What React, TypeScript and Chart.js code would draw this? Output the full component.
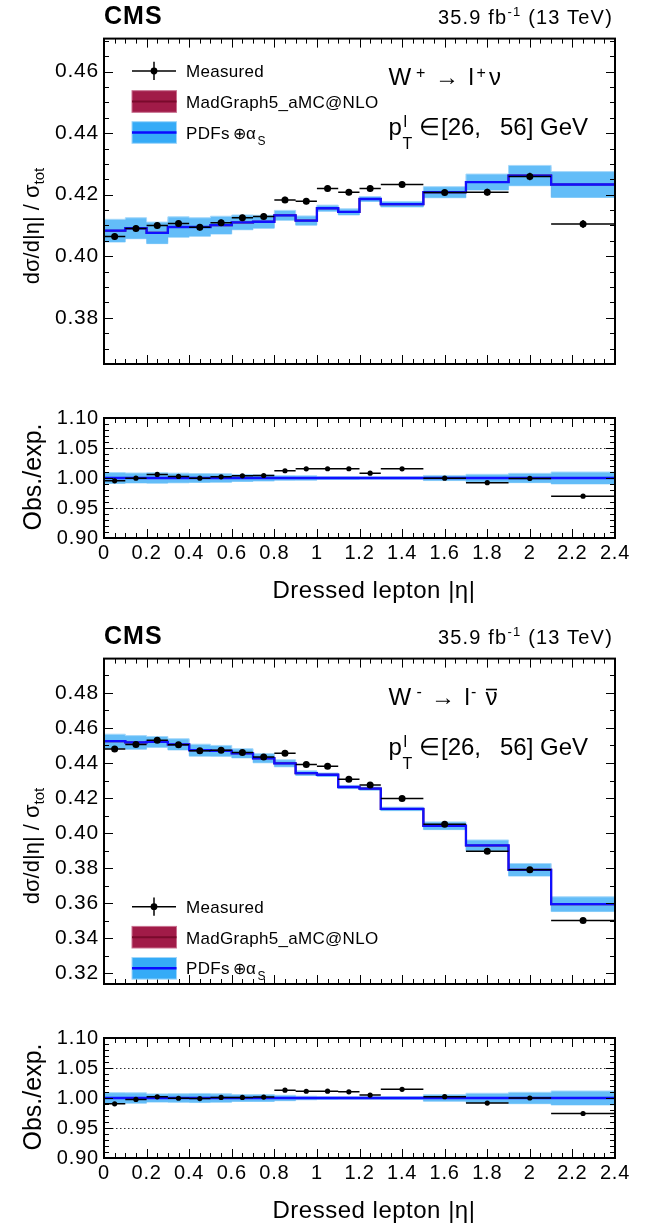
import React, { useEffect, useRef } from 'react';
import { Chart, registerables } from 'chart.js';

Chart.register(...registerables);

const FONT = "'Liberation Sans', Arial, Helvetica, sans-serif";

// |eta| bin edges
const binEdges = [0, 0.1, 0.2, 0.3, 0.4, 0.5, 0.6, 0.7, 0.8, 0.9, 1.0, 1.1, 1.2, 1.3, 1.5, 1.7, 1.9, 2.1, 2.4];

// W+ -> l+ nu
const measPlus = [0.4064, 0.4090, 0.4100, 0.4106, 0.4094, 0.4109, 0.4125, 0.4129, 0.4183, 0.4179, 0.4220, 0.4208, 0.4220, 0.4233, 0.4207, 0.4208, 0.4259, 0.4105];
const errPlus = [0.0011, 0.0010, 0.0010, 0.0010, 0.0010, 0.0010, 0.0010, 0.0010, 0.0010, 0.0010, 0.0010, 0.0010, 0.0010, 0.0009, 0.0010, 0.0011, 0.0012, 0.0013];
const predPlus = [0.4083, 0.4091, 0.4076, 0.4095, 0.4095, 0.4101, 0.4110, 0.4112, 0.4133, 0.4116, 0.4156, 0.4144, 0.4186, 0.4169, 0.4208, 0.4241, 0.4262, 0.4233];
const pdfHalfPlus = [0.0037, 0.0034, 0.0035, 0.0033, 0.0030, 0.0029, 0.0024, 0.0021, 0.0016, 0.0015, 0.0010, 0.0010, 0.0008, 0.0009, 0.0018, 0.0026, 0.0033, 0.0042];
const mgHalfPlus = [0.0030, 0.0028, 0.0029, 0.0027, 0.0025, 0.0024, 0.0020, 0.0018, 0.0013, 0.0012, 0.0008, 0.0008, 0.0007, 0.0007, 0.0015, 0.0022, 0.0028, 0.0040];

// W- -> l- nubar
const measMinus = [0.4480, 0.4506, 0.4529, 0.4504, 0.4469, 0.4473, 0.4459, 0.4434, 0.4455, 0.4391, 0.4382, 0.4307, 0.4275, 0.4198, 0.4051, 0.3897, 0.3791, 0.3502];
const errMinus = [0.0011, 0.0010, 0.0010, 0.0010, 0.0010, 0.0010, 0.0010, 0.0010, 0.0010, 0.0010, 0.0010, 0.0010, 0.0010, 0.0009, 0.0010, 0.0010, 0.0011, 0.0012];
const predMinus = [0.4524, 0.4517, 0.4520, 0.4506, 0.4473, 0.4469, 0.4455, 0.4427, 0.4398, 0.4342, 0.4333, 0.4263, 0.4254, 0.4138, 0.4042, 0.3930, 0.3791, 0.3595];
const pdfHalfMinus = [0.0040, 0.0039, 0.0031, 0.0032, 0.0034, 0.0031, 0.0026, 0.0026, 0.0020, 0.0013, 0.0010, 0.0009, 0.0009, 0.0010, 0.0022, 0.0031, 0.0036, 0.0042];
const mgHalfMinus = [0.0034, 0.0033, 0.0026, 0.0027, 0.0029, 0.0026, 0.0022, 0.0022, 0.0017, 0.0011, 0.0008, 0.0008, 0.0008, 0.0008, 0.0019, 0.0026, 0.0031, 0.0036];

// axis ranges / ticks
const xRange = [0, 2.4];
const yRangePlus = [0.365, 0.4707];
const yRangeMinus = [0.314, 0.4995];
const ratioRange = [0.9, 1.1];
const ratioRefLines = [0.95, 1.05];

const stepData = (vals: number[]) => [
  ...vals.map((v, i) => ({ x: binEdges[i], y: v })),
  { x: binEdges[binEdges.length - 1], y: vals[vals.length - 1] },
];
const centerOf = (i: number) => (binEdges[i] + binEdges[i + 1]) / 2;
const pointData = (vals: number[]) => vals.map((v, i) => ({ x: centerOf(i), y: v }));
const barData = (vals: number[], errs: number[]) => [
  ...vals.flatMap((v, i) => [
    { x: binEdges[i], y: v },
    { x: binEdges[i + 1], y: v },
    { x: binEdges[i + 1], y: null },
  ]),
  ...vals.flatMap((v, i) => [
    { x: centerOf(i), y: v - errs[i] },
    { x: centerOf(i), y: v + errs[i] },
    { x: centerOf(i), y: null },
  ]),
];

const framePlugin = {
  id: 'frame',
  beforeDraw(chart: any) {
    (chart.ctx as any).letterSpacing = '0.8px';
  },
  beforeDatasetsDraw(chart: any, _a: any, opts: any) {
    const { ctx, chartArea: ca, scales } = chart;
    const y = scales.y;
    ctx.save();
    ctx.strokeStyle = '#333';
    ctx.lineWidth = 1;
    ctx.setLineDash([1.5, 2.5]);
    for (const v of opts.dotted || []) {
      const py = Math.round(y.getPixelForValue(v)) + 0.5;
      ctx.beginPath();
      ctx.moveTo(ca.left, py);
      ctx.lineTo(ca.right, py);
      ctx.stroke();
    }
    ctx.restore();
  },
  afterDatasetsDraw(chart: any, _a: any, opts: any) {
    const { ctx, chartArea: ca, scales } = chart;
    const x = scales.x;
    const y = scales.y;
    ctx.save();
    ctx.strokeStyle = '#000';
    ctx.lineWidth = 1;
    ctx.beginPath();
    const xmin = x.min, xmax = x.max;
    for (let k = Math.ceil(xmin / opts.xMinor - 1e-6); k * opts.xMinor <= xmax + 1e-9; k++) {
      const px = Math.round(x.getPixelForValue(k * opts.xMinor)) + 0.5;
      const len = k % opts.xEvery === 0 ? 9 : 5;
      ctx.moveTo(px, ca.bottom);
      ctx.lineTo(px, ca.bottom - len);
      ctx.moveTo(px, ca.top);
      ctx.lineTo(px, ca.top + len);
    }
    const ymin = y.min, ymax = y.max;
    for (let k = Math.ceil(ymin / opts.yMinor - 1e-6); k * opts.yMinor <= ymax + 1e-9; k++) {
      const py = Math.round(y.getPixelForValue(k * opts.yMinor)) + 0.5;
      const len = k % opts.yEvery === 0 ? 9 : 5;
      ctx.moveTo(ca.left, py);
      ctx.lineTo(ca.left + len, py);
      ctx.moveTo(ca.right, py);
      ctx.lineTo(ca.right - len, py);
    }
    ctx.stroke();
    ctx.lineWidth = 2;
    ctx.strokeRect(ca.left, ca.top, ca.right - ca.left, ca.bottom - ca.top);
    ctx.restore();
  },
};

type Spec = {
  top: number;
  height: number;
  padTop: number;
  padBottom: number;
  ratio: boolean;
  meas: number[];
  err: number[];
  pred: number[];
  pdfHalf: number[];
  mgHalf: number[];
  yRange: number[];
  yStep: number;
  yMinor: number;
  yEvery: number;
  markerR: number;
};

function buildConfig(s: Spec): any {
  const div = (a: number[]) => (s.ratio ? a.map((v, i) => v / s.pred[i]) : a);
  const m = div(s.meas);
  const e = div(s.err);
  const c = div(s.pred);
  const ph = div(s.pdfHalf);
  const mh = div(s.mgHalf);
  const bandCol = '#63bdf8';
  const bandEdge = '#a6d9fb';
  const datasets = [
    { label: 'Measured', data: pointData(m), showLine: false, pointRadius: s.markerR, pointBackgroundColor: '#000', pointBorderWidth: 0, borderColor: '#000' },
    { label: 'Measured bars', data: barData(m, e), borderColor: '#000', borderWidth: 1.5, pointRadius: 0, spanGaps: false },
    { label: 'PDFs', data: stepData(c), stepped: 'before', borderColor: '#1010ff', borderWidth: 2.3, pointRadius: 0 },
    { label: 'MadGraph5_aMC@NLO', data: stepData(c), stepped: 'before', borderColor: '#8a0c36', borderWidth: 2, pointRadius: 0 },
    { label: 'PDF up', data: stepData(c.map((v, i) => v + ph[i])), stepped: 'before', borderColor: bandEdge, borderWidth: 1, pointRadius: 0, fill: '+1', backgroundColor: bandCol },
    { label: 'PDF down', data: stepData(c.map((v, i) => v - ph[i])), stepped: 'before', borderColor: bandEdge, borderWidth: 1, pointRadius: 0, fill: false },
    { label: 'MG up', data: stepData(c.map((v, i) => v + mh[i])), stepped: 'before', borderColor: 'rgba(0,0,0,0)', borderWidth: 0, pointRadius: 0, fill: '+1', backgroundColor: '#a01946' },
    { label: 'MG down', data: stepData(c.map((v, i) => v - mh[i])), stepped: 'before', borderColor: 'rgba(0,0,0,0)', borderWidth: 0, pointRadius: 0, fill: false },
  ];
  return {
    type: 'line',
    data: { datasets },
    plugins: [framePlugin],
    options: {
      animation: false,
      responsive: false,
      devicePixelRatio: 1,
      events: [],
      layout: { padding: { left: 0, right: 40, top: s.padTop, bottom: s.padBottom } },
      plugins: {
        legend: { display: false },
        tooltip: { enabled: false },
        frame: { xMinor: 0.05, xEvery: 4, yMinor: s.yMinor, yEvery: s.yEvery, dotted: s.ratio ? ratioRefLines : [] },
      },
      scales: {
        x: {
          type: 'linear',
          min: xRange[0],
          max: xRange[1],
          display: s.ratio,
          grid: { display: false, drawTicks: false },
          border: { display: false },
          ticks: {
            stepSize: 0.2,
            autoSkip: false,
            maxRotation: 0,
            padding: 3,
            color: '#000',
            font: { family: FONT, size: 20 },
            callback: (v: number) => String(Math.round(v * 10) / 10),
          },
          afterFit: (sc: any) => {
            sc.height = 30;
          },
        },
        y: {
          type: 'linear',
          min: s.yRange[0],
          max: s.yRange[1],
          grid: { display: false, drawTicks: false },
          border: { display: false },
          ticks: {
            stepSize: s.yStep,
            includeBounds: false,
            autoSkip: false,
            padding: 5,
            color: '#000',
            font: { family: FONT, size: s.ratio ? 20 : 21 },
            callback: (v: number) => v.toFixed(2),
          },
          afterFit: (sc: any) => {
            sc.width = 104;
          },
        },
      },
    },
  };
}

function ChartPanel({ spec }: { spec: Spec }) {
  const ref = useRef<HTMLCanvasElement>(null);
  useEffect(() => {
    const chart = new Chart(ref.current as HTMLCanvasElement, buildConfig(spec));
    return () => chart.destroy();
  }, []);
  return (
    <canvas
      ref={ref}
      width={655}
      height={spec.height}
      style={{ position: 'absolute', left: 0, top: spec.top, width: 655, height: spec.height }}
    />
  );
}

const G2 = 620; // vertical offset of the second figure

const specs: Spec[] = [
  { top: 21, height: 387, padTop: 16, padBottom: 14, ratio: false, meas: measPlus, err: errPlus, pred: predPlus, pdfHalf: pdfHalfPlus, mgHalf: mgHalfPlus, yRange: yRangePlus, yStep: 0.02, yMinor: 0.005, yEvery: 4, markerR: 3.5 },
  { top: 401, height: 171, padTop: 16, padBottom: 4, ratio: true, meas: measPlus, err: errPlus, pred: predPlus, pdfHalf: pdfHalfPlus, mgHalf: mgHalfPlus, yRange: ratioRange, yStep: 0.05, yMinor: 0.01, yEvery: 5, markerR: 2.6 },
  { top: 21 + G2, height: 387, padTop: 16, padBottom: 14, ratio: false, meas: measMinus, err: errMinus, pred: predMinus, pdfHalf: pdfHalfMinus, mgHalf: mgHalfMinus, yRange: yRangeMinus, yStep: 0.02, yMinor: 0.01, yEvery: 2, markerR: 3.5 },
  { top: 401 + G2, height: 171, padTop: 16, padBottom: 4, ratio: true, meas: measMinus, err: errMinus, pred: predMinus, pdfHalf: pdfHalfMinus, mgHalf: mgHalfMinus, yRange: ratioRange, yStep: 0.05, yMinor: 0.01, yEvery: 5, markerR: 2.6 },
];

function Legend({ b1, b2, b3 }: { b1: number; b2: number; b3: number }) {
  return (
    <g>
      <line x1={132} x2={176} y1={b1 - 6.3} y2={b1 - 6.3} stroke="#000" strokeWidth={1.5} />
      <line x1={154} x2={154} y1={b1 - 15.6} y2={b1 + 2.7} stroke="#000" strokeWidth={1.5} />
      <circle cx={154} cy={b1 - 6.3} r={3.4} fill="#000" />
      <text x={186} y={b1} fontSize={17} letterSpacing={0.3}>Measured</text>

      <rect x={132} y={b2 - 17.3} width={44.5} height={21.6} fill="#a11b48" stroke="#c9708f" strokeWidth={1} />
      <line x1={132} x2={176.5} y1={b2 - 6.5} y2={b2 - 6.5} stroke="#7a0a2c" strokeWidth={2} />
      <text x={186} y={b2} fontSize={17} letterSpacing={0.3}>MadGraph5_aMC@NLO</text>

      <rect x={132} y={b3 - 16.8} width={44.5} height={21.6} fill="#35abf7" stroke="#9fd6fa" strokeWidth={1} />
      <line x1={132} x2={176.5} y1={b3 - 6} y2={b3 - 6} stroke="#0a0aff" strokeWidth={2.5} />
      <text x={186} y={b3} fontSize={17} letterSpacing={0.3}>
        PDFs
        <tspan x={233} fontSize={16}>⊕</tspan>
        <tspan x={246}>α</tspan>
        <tspan x={257.5} dy={6} fontSize={12}>S</tspan>
      </text>
    </g>
  );
}

function Header({ g }: { g: number }) {
  return (
    <g>
      <text x={104} y={24 + g} fontWeight="bold" fontSize={25} letterSpacing={1}>CMS</text>
      <text x={613} y={24 + g} textAnchor="end" fontSize={20} letterSpacing={1.2} style={{ whiteSpace: 'pre' }}>
        35.9 fb<tspan dy={-8} fontSize={13}>-1</tspan>
        <tspan dy={8}> (13 TeV)</tspan>
      </text>
      <text transform={`translate(39 ${226 + g}) rotate(-90)`} textAnchor="middle" fontSize={22}>
        dσ/d|η| / σ<tspan fontSize={15} dy={5}>tot</tspan>
      </text>
      <text transform={`translate(41 ${477 + g}) rotate(-90)`} textAnchor="middle" fontSize={25}>Obs./exp.</text>
      <text x={374} y={598 + g} textAnchor="middle" fontSize={24} letterSpacing={0.5}>Dressed lepton |η|</text>
      <text y={134.5 + g} fontSize={24}>
        <tspan x={388.5}>p</tspan>
        <tspan x={403.5} y={127 + g} fontSize={16}>l</tspan>
        <tspan x={402.5} y={149 + g} fontSize={16}>T</tspan>
        <tspan x={419} y={134.5 + g}>∈</tspan>
        <tspan x={441}>[26,</tspan>
        <tspan x={500}>56] GeV</tspan>
      </text>
    </g>
  );
}

export default function App() {
  return (
    <div style={{ position: 'absolute', left: 0, top: 0, width: 655, height: 1227, background: '#fff', overflow: 'hidden' }}>
      {specs.map((s, i) => (
        <ChartPanel key={i} spec={s} />
      ))}
      <svg
        width={655}
        height={1227}
        style={{ position: 'absolute', left: 0, top: 0, pointerEvents: 'none' }}
        fontFamily={FONT}
        fill="#000"
      >
        <Header g={0} />
        <Header g={G2} />
        <text y={85} fontSize={24}>
          <tspan x={388.5}>W</tspan>
          <tspan x={416} dy={-7} fontSize={16}>+</tspan>
          <tspan x={435} dy={7}>→</tspan>
          <tspan x={468.5}>l</tspan>
          <tspan x={476.5} dy={-7} fontSize={16}>+</tspan>
          <tspan x={489} dy={7}>ν</tspan>
        </text>
        <text y={85 + G2} fontSize={24}>
          <tspan x={388.5}>W</tspan>
          <tspan x={416.5} dy={-8} fontSize={16}>-</tspan>
          <tspan x={431} dy={8}>→</tspan>
          <tspan x={464.5}>l</tspan>
          <tspan x={471} dy={-8} fontSize={16}>-</tspan>
          <tspan x={485.5} dy={8}>ν</tspan>
        </text>
        <line x1={486} x2={497} y1={69.5 + G2} y2={69.5 + G2} stroke="#000" strokeWidth={1.6} />
        <Legend b1={77.3} b2={108} b3={138.5} />
        <Legend b1={913} b2={943.7} b3={974.3} />
      </svg>
    </div>
  );
}
